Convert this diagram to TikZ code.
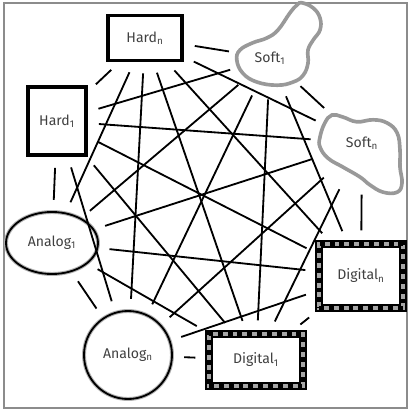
\documentclass[tikz,border=0pt]{standalone}
\usepackage{fontspec}
\setmainfont{Fira Sans}
\usepackage{tikz}
\usetikzlibrary{shapes,positioning}
\tikzset{
	nodetext/.style = {
		font=\normalsize, text=black!75
	}
}

\begin{document}
\begin{tikzpicture}[
        on grid,
        node distance = 1 cm,
        hard/.style = {rectangle, draw, line width=2.4pt, nodetext},
        soft/.style = {circle, draw=none, inner sep=0pt, nodetext},
        blob/.style = {draw=black!40, line width=2.6pt},
        analog/.style = {ellipse, draw, line width=1.3pt, preaction={draw=black!30, line width=2.8pt}, nodetext},
        digital/.style = {rectangle, draw=black!35, line width=3.5pt, preaction={draw=black, line width=5pt}, postaction={draw=black, dash pattern=on 3.5pt off 3.5pt}, nodetext},
        edge/.style = {line width=1.3pt, shorten >=8pt, shorten <=8pt}
    ]
    \useasboundingbox (-5.125,-5.125) rectangle (5.125,5.15);
    \draw[black!45, line width=0.8pt] (-5.025,-5.05) rectangle (5.05,5.075);

    \node[draw=none] (center){};
    \node[hard, minimum width=1.85cm, minimum height=1.12cm, above left = 4.2cm and 1.5cm of center] (hn) {Hard\textsubscript{n}};
    \node[hard, minimum width=1.45cm, minimum height=1.7cm, above left = 2.125cm and 3.7cm of center] (h1) {Hard\textsubscript{1}};
    \node[soft, minimum size=1.5cm, above right = 3.7cm and 1.625cm of center] (s1) {Soft\textsubscript{1}};
    \node[soft, minimum size=2cm, above right = 1.575cm and 3.925cm of center] (sn) {Soft\textsubscript{n}};
    \node[analog, minimum width=2.3cm, minimum height=1.55cm, below left = 0.925cm and 3.825cm of center] (a1) {Analog\textsubscript{1}};
    \node[analog, circle, minimum size=2.2cm, below left = 3.725cm and 1.925cm of center] (an) {Analog\textsubscript{n}};
    \node[digital, minimum width=2.35cm, minimum height=1.3cm, below right = 3.85cm and 1.275cm of center] (d1) {Digital\textsubscript{1}};
    \node[digital, minimum width=2.1cm, minimum height=1.6cm, below right = 1.75cm and 3.9cm of center] (dn) {Digital\textsubscript{n}};

    % soft outlines
    \draw[blob, shift={(s1.center)}] plot[smooth cycle, tension=0.7] coordinates {
        (0.8,1.38) (1.08,1.25) (1.25,1.0) (1.25,0.7) (1.08,0.45) (0.95,0.2)
        (0.95,-0.13) (0.83,-0.43) (0.58,-0.6) (0.18,-0.68) (-0.33,-0.6)
        (-0.68,-0.38) (-0.83,-0.05) (-0.75,0.2) (-0.43,0.38) (-0.08,0.5)
        (0.2,0.7) (0.5,1.13) (0.68,1.33)};
    \draw[blob, shift={(sn.center)}] plot[smooth cycle, tension=0.7] coordinates {
        (-0.75,0.7) (-0.48,0.65) (-0.13,0.53) (0.28,0.58) (0.63,0.5) (0.88,0.25)
        (0.95,-0.18) (0.95,-0.6) (1.0,-1.0) (0.88,-1.23) (0.53,-1.23) (0.2,-1.05)
        (-0.05,-0.85) (-0.48,-0.6) (-0.85,-0.38) (-1.05,-0.1) (-1.05,0.15) (-0.93,0.5)};

    \draw[edge] (h1) -- (hn);
    \draw[edge] (h1) -- (s1);
    \draw[edge] (h1) -- (sn);
    \draw[edge] (h1) -- (dn);
    \draw[edge] (h1) -- (d1);
    \draw[edge] (h1) -- (an);
    \draw[edge] (h1) -- (a1);
    \draw[edge] (hn) -- (s1);
    \draw[edge] (hn) -- (sn);
    \draw[edge] (hn) -- (dn);
    \draw[edge] (hn) -- (d1);
    \draw[edge] (hn) -- (an);
    \draw[edge] (hn) -- (a1);
    \draw[edge] (s1) -- (sn);
    \draw[edge] (s1) -- (dn);
    \draw[edge] (s1) -- (d1);
    \draw[edge] (s1) -- (an);
    \draw[edge] (s1) -- (a1);
    \draw[edge] (sn) -- (dn);
    \draw[edge] (sn) -- (d1);
    \draw[edge] (sn) -- (an);
    \draw[edge] (sn) -- (a1);
    \draw[edge] (dn) -- (d1);
    \draw[edge] (dn) -- (an);
    \draw[edge] (dn) -- (a1);
    \draw[edge] (d1) -- (an);
    \draw[edge] (d1) -- (a1);
    \draw[edge] (an) -- (a1);

\end{tikzpicture}
\end{document}
